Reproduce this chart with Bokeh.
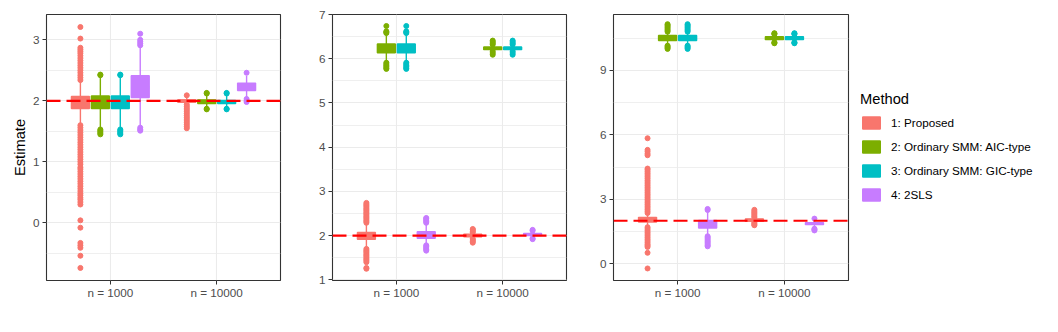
from bokeh.plotting import figure
from bokeh.layouts import row
from bokeh.models import ColumnDataSource, Range1d, FixedTicker, Span, Legend, LegendItem
from bokeh.embed import file_html
from bokeh.resources import INLINE

methods = ["1: Proposed", "2: Ordinary SMM: AIC-type", "3: Ordinary SMM: GIC-type", "4: 2SLS"]
sizes = ["n = 1000", "n = 10000"]
colors = ["#F8766D", "#7CAE00", "#00BFC4", "#C77CFF"]
true_value = 2.0

# ---------------- Panel A ----------------  rows = methods, cols = sizes
a_low = [[1.63, 1.96], [1.56, 1.88], [1.56, 1.88], [1.59, 2.05]]
a_q1 = [[1.874, 1.975], [1.874, 1.957], [1.874, 1.957], [2.055, 2.17]]
a_med = [[1.995, 2.0], [1.98, 1.99], [1.98, 1.985], [2.22, 2.23]]
a_q3 = [[2.07, 2.016], [2.08, 2.016], [2.08, 2.005], [2.41, 2.29]]
a_high = [[2.32, 2.08], [2.40, 2.10], [2.40, 2.10], [2.89, 2.41]]
a_out = [
    [[2.34, 2.38, 2.42, 2.46, 2.50, 2.54, 2.58, 2.62, 2.66, 2.70, 2.74, 2.78, 2.81, 2.84, 2.87,
      3.02, 3.21, 1.60, 1.56, 1.52, 1.48, 1.44, 1.40, 1.36, 1.32, 1.28, 1.24, 1.20, 1.16, 1.12,
      1.08, 1.04, 1.00, 0.96, 0.91, 0.88, 0.84, 0.80, 0.76, 0.72, 0.68, 0.64, 0.60, 0.56, 0.52,
      0.48, 0.45, 0.41, 0.38, 0.34, 0.30, 0.04, -0.08, -0.33, -0.37, -0.41, -0.54, -0.74],
     [2.09, 1.94, 1.91, 1.88, 1.85, 1.82, 1.79, 1.76, 1.73, 1.70, 1.67, 1.64, 1.61, 1.58, 1.55]],
    [[2.42, 2.43, 1.53, 1.51, 1.49, 1.47, 1.45], [2.12, 2.13, 1.87, 1.86]],
    [[2.42, 2.43, 1.53, 1.51, 1.49, 1.47, 1.45], [2.12, 2.13, 1.87, 1.86]],
    [[2.91, 2.94, 2.97, 3.00, 3.10, 1.56, 1.53, 1.51], [2.46, 2.03, 2.00, 1.98]],
]
a_yrange = (-0.946, 3.415)
a_ticks = [0, 1, 2, 3]
a_minor = [-0.5, 0.5, 1.5, 2.5]

# ---------------- Panel B ----------------
b_low = [[1.72, 1.95], [5.93, 6.18], [5.93, 6.18], [1.81, 1.96]]
b_q1 = [[1.917, 1.975], [6.136, 6.205], [6.136, 6.205], [1.94, 2.0]]
b_med = [[2.0, 2.0], [6.23, 6.235], [6.23, 6.235], [2.01, 2.02]]
b_q3 = [[2.07, 2.03], [6.333, 6.265], [6.333, 6.265], [2.09, 2.05]]
b_high = [[2.27, 2.05], [6.56, 6.30], [6.56, 6.30], [2.27, 2.09]]
b_out = [
    [[2.29, 2.32, 2.35, 2.38, 2.41, 2.44, 2.47, 2.50, 2.53, 2.56, 2.59, 2.62, 2.65, 2.68, 2.71, 2.74,
      1.70, 1.67, 1.64, 1.61, 1.58, 1.55, 1.52, 1.49, 1.46, 1.43, 1.40, 1.27, 1.25],
     [2.07, 2.10, 2.13, 2.15, 1.93, 1.90, 1.87, 1.84]],
    [[6.58, 6.60, 6.62, 6.74, 5.91, 5.88, 5.85, 5.82, 5.79, 5.77], [6.32, 6.35, 6.38, 6.41, 6.17, 6.13, 6.09]],
    [[6.58, 6.60, 6.62, 6.74, 5.91, 5.88, 5.85, 5.82, 5.79, 5.77], [6.32, 6.35, 6.38, 6.41, 6.17, 6.13, 6.09]],
    [[2.29, 2.32, 2.35, 2.38, 2.40, 1.78, 1.75, 1.72, 1.69, 1.66], [2.11, 2.13, 1.94, 1.92]],
]
b_yrange = (0.985, 7.0)
b_ticks = [1, 2, 3, 4, 5, 6, 7]
b_minor = [1.5, 2.5, 3.5, 4.5, 5.5, 6.5]

# ---------------- Panel C ----------------
c_low = [[1.72, 1.96], [10.17, 10.33], [10.17, 10.33], [1.30, 1.66]]
c_q1 = [[1.94, 1.97], [10.385, 10.43], [10.385, 10.43], [1.66, 1.82]]
c_med = [[2.05, 2.03], [10.5, 10.5], [10.5, 10.5], [1.84, 1.87]]
c_q3 = [[2.16, 2.08], [10.62, 10.57], [10.62, 10.57], [2.02, 1.91]]
c_high = [[2.33, 2.12], [10.78, 10.66], [10.78, 10.66], [2.40, 2.05]]
c_out = [
    [[2.36, 2.44, 2.52, 2.60, 2.68, 2.76, 2.84, 2.92, 3.00, 3.08, 3.16, 3.24, 3.32, 3.40, 3.48,
      3.56, 3.64, 3.72, 3.80, 3.88, 3.97, 4.05, 4.13, 4.21, 4.29, 4.37, 4.43, 5.05, 5.12, 5.22,
      5.30, 5.84, 1.70, 1.62, 1.54, 1.46, 1.38, 1.30, 1.22, 1.14, 1.06, 0.98, 0.90, 0.84, 0.78,
      0.51, -0.22],
     [2.15, 2.21, 2.27, 2.33, 2.39, 2.45, 2.51, 1.92, 1.87, 1.82, 1.79]],
    [[10.80, 10.86, 10.92, 10.98, 11.04, 11.10, 11.15, 10.15, 10.10, 10.05, 10.00],
     [10.68, 10.71, 10.73, 10.31, 10.28, 10.26]],
    [[10.80, 10.86, 10.92, 10.98, 11.04, 11.10, 11.15, 10.15, 10.10, 10.05, 10.00],
     [10.68, 10.71, 10.73, 10.31, 10.28, 10.26]],
    [[2.50, 2.55, 1.28, 1.22, 1.16, 1.10, 1.04, 0.98, 0.92, 0.86, 0.81], [2.10, 1.63, 1.59, 1.55]],
]
c_yrange = (-0.78, 11.6)
c_ticks = [0, 3, 6, 9]
c_minor = [1.5, 4.5, 7.5, 10.5]

FONT = "Liberation Sans"
DODGE = 0.75 / len(methods)
BOX_W = DODGE * 0.9


def make_panel(low, q1, med, q3, high, out, yrange, ticks, minor, left, frame_w, right_border,
               ylabel=None, legend=False):
    p = figure(frame_width=frame_w, frame_height=266,
               x_range=Range1d(0.4, 2.6), y_range=Range1d(*yrange),
               output_backend="svg", toolbar_location=None,
               min_border_left=left, min_border_right=right_border,
               min_border_top=14, min_border_bottom=30,
               background_fill_color="white", border_fill_color="white")
    p.outline_line_color = "#333333"
    p.outline_line_width = 1.1

    p.xaxis.ticker = FixedTicker(ticks=[i + 1 for i in range(len(sizes))])
    p.xaxis.major_label_overrides = {i + 1: s for i, s in enumerate(sizes)}
    p.yaxis.ticker = FixedTicker(ticks=ticks, minor_ticks=minor)
    for ax in (p.xaxis[0], p.yaxis[0]):
        ax.axis_line_color = None
        ax.major_tick_line_color = "#333333"
        ax.major_tick_in = 0
        ax.major_tick_out = 4
        ax.minor_tick_line_color = None
        ax.major_label_text_font = FONT
        ax.major_label_text_font_size = "11.7px"
        ax.major_label_text_color = "#4D4D4D"
        ax.major_label_standoff = 3
    p.xaxis.major_label_standoff = 1
    if ylabel:
        p.yaxis.axis_label = ylabel
        p.yaxis.axis_label_text_font = FONT
        p.yaxis.axis_label_text_font_size = "14.7px"
        p.yaxis.axis_label_text_font_style = "normal"
        p.yaxis.axis_label_text_color = "black"
        p.yaxis.axis_label_standoff = 2

    p.xgrid.ticker = FixedTicker(ticks=[i + 1 for i in range(len(sizes))])
    p.xgrid.grid_line_color = "#EBEBEB"
    p.xgrid.grid_line_width = 1.1
    p.ygrid.grid_line_color = "#EBEBEB"
    p.ygrid.grid_line_width = 1.1
    p.ygrid.minor_grid_line_color = "#EBEBEB"
    p.ygrid.minor_grid_line_width = 0.8

    box_renderers = []
    for m, (name, col) in enumerate(zip(methods, colors)):
        xs = [j + 1 + (m - (len(methods) - 1) / 2) * DODGE for j in range(len(sizes))]
        src = ColumnDataSource(dict(x=xs, low=low[m], q1=q1[m], med=med[m], q3=q3[m], high=high[m],
                                    xl=[x - BOX_W / 2 for x in xs], xr=[x + BOX_W / 2 for x in xs]))
        p.segment(x0="x", y0="q3", x1="x", y1="high", source=src, line_color=col, line_width=1.4)
        p.segment(x0="x", y0="q1", x1="x", y1="low", source=src, line_color=col, line_width=1.4)
        r = p.vbar(x="x", width=BOX_W, top="q3", bottom="q1", source=src,
                   fill_color=col, line_color=col, line_width=1.4)
        p.segment(x0="xl", y0="med", x1="xr", y1="med", source=src, line_color=col, line_width=2.6)
        ox, oy = [], []
        for j in range(len(sizes)):
            ox += [xs[j]] * len(out[m][j])
            oy += out[m][j]
        p.scatter(x=ox, y=oy, size=5, fill_color=col, line_color=col)
        box_renderers.append(r)

    p.add_layout(Span(location=true_value, dimension="width", line_color="#FF0000",
                      line_dash="14 6", line_width=2.2))

    if legend:
        lg = Legend(items=[LegendItem(label=name, renderers=[r]) for name, r in zip(methods, box_renderers)],
                    title="Method", location="center_left")
        lg.title_text_font = FONT
        lg.title_text_font_size = "14.7px"
        lg.title_text_font_style = "normal"
        lg.title_text_color = "black"
        lg.title_standoff = 7
        lg.label_text_font = FONT
        lg.label_text_font_size = "11.7px"
        lg.label_text_color = "black"
        lg.glyph_width = 22
        lg.glyph_height = 15
        lg.label_height = 17
        lg.label_standoff = 9
        lg.spacing = 7
        lg.padding = 8
        lg.margin = 12
        lg.border_line_color = None
        lg.background_fill_alpha = 0
        p.add_layout(lg, "right")
    return p


p1 = make_panel(a_low, a_q1, a_med, a_q3, a_high, a_out, a_yrange, a_ticks, a_minor, 46, 234, 10, ylabel="Estimate")
p2 = make_panel(b_low, b_q1, b_med, b_q3, b_high, b_out, b_yrange, b_ticks, b_minor, 42, 234, 10)
p3 = make_panel(c_low, c_q1, c_med, c_q3, c_high, c_out, c_yrange, c_ticks, c_minor, 37, 235, 5, legend=True)

layout = row(p1, p2, p3)
open("out.html", "w").write(file_html(layout, INLINE))
